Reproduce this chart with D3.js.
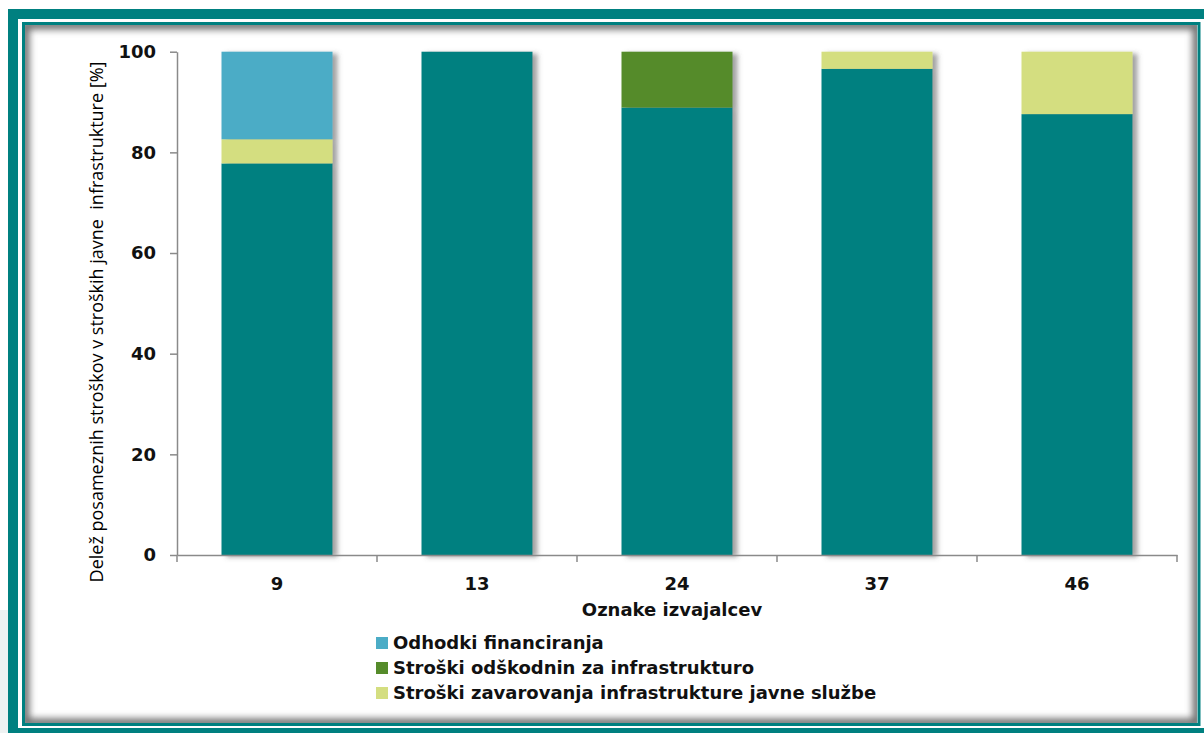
<!DOCTYPE html>
<html><head><meta charset="utf-8">
<script src="https://cdn.jsdelivr.net/npm/d3@7"></script>
<style>body{margin:0;background:#fff}svg{display:block}</style>
</head><body>
<svg id="c" width="1204" height="733"></svg>
<script>
// ---- data ----
const categories = ["9", "13", "24", "37", "46"];
const seriesKeys = ["osnovni", "zavarovanje", "odskodnine", "financiranje"];
const seriesLabels = ["", "Stroški zavarovanja infrastrukture javne službe", "Stroški odškodnin za infrastrukturo", "Odhodki financiranja"];
const seriesColors = ["#008080", "#D4DE80", "#558B2A", "#4BACC6"];
const valOsnovni     = [77.8, 100, 88.9, 96.6, 87.6];
const valZavarovanje = [4.8, 0, 0, 3.4, 12.4];
const valOdskodnine  = [0, 0, 11.1, 0, 0];
const valFinanciranje= [17.4, 0, 0, 0, 0];
const yTicks = [0, 20, 40, 60, 80, 100];
const legendOrder = [3, 2, 1];
const xTitle = "Oznake izvajalcev";
const yTitle = "Delež posameznih stroškov v stroških javne  infrastrukture [%]";

const seriesVals = [valOsnovni, valZavarovanje, valOdskodnine, valFinanciranje];
const rows = categories.map((c, i) => {
  const r = {cat: c};
  seriesKeys.forEach((k, j) => r[k] = seriesVals[j][i]);
  return r;
});

const svg = d3.select("#c");
const defs = svg.append("defs");

// frame
svg.append("rect").attr("x", 0).attr("y", 610).attr("width", 9).attr("height", 123).attr("fill", "#eef2f2");
svg.append("rect").attr("x", 13).attr("y", 14).attr("width", 1200).attr("height", 719)
  .attr("fill", "#fff").attr("stroke", "#008080").attr("stroke-width", 10);
// inner panel
const px = 25, py = 25, pw = 1172, ph = 698;
defs.append("clipPath").attr("id", "pc").append("rect").attr("x", px).attr("y", py).attr("width", pw).attr("height", ph);
const blur = defs.append("filter").attr("id", "blur").attr("x", "-10%").attr("y", "-10%").attr("width", "120%").attr("height", "120%");
blur.append("feGaussianBlur").attr("stdDeviation", 3.5);
svg.append("rect").attr("x", px).attr("y", py).attr("width", pw).attr("height", ph).attr("fill", "#fff");
svg.append("g").attr("clip-path", "url(#pc)").append("rect")
  .attr("x", px).attr("y", py).attr("width", pw).attr("height", ph)
  .attr("fill", "none").attr("stroke", "#6e6e6e").attr("stroke-width", 9).attr("filter", "url(#blur)");
svg.append("rect").attr("x", 23.5).attr("y", 23.5).attr("width", 1175.5).attr("height", 701)
  .attr("fill", "none").attr("stroke", "#008080").attr("stroke-width", 3);

// scales
const x = d3.scaleBand().domain(categories).range([177, 1177]).paddingInner(0.445).paddingOuter(0.2225);
const y = d3.scaleLinear().domain([0, 100]).range([555, 51.7]);

// bar shadow
const sh = defs.append("filter").attr("id", "sh").attr("x", "-10%").attr("y", "-10%").attr("width", "130%").attr("height", "130%");
sh.append("feDropShadow").attr("dx", 5).attr("dy", 2).attr("stdDeviation", 2.5).attr("flood-color", "#555").attr("flood-opacity", 0.55);

const stack = d3.stack().keys(seriesKeys)(rows);
const barG = svg.append("g").attr("filter", "url(#sh)");
stack.forEach((layer, j) => {
  barG.selectAll(null).data(layer.filter(d => d[1] - d[0] > 0)).join("rect")
    .attr("x", d => x(d.data.cat))
    .attr("width", x.bandwidth())
    .attr("y", d => y(d[1]))
    .attr("height", d => y(d[0]) - y(d[1]))
    .attr("fill", seriesColors[j]);
});

const axisColor = "#8a8a8a";
const tickFont = "'DejaVu Sans', Verdana, sans-serif";
const fs = 18;

// y axis
const yAx = svg.append("g").attr("transform", "translate(177,0)")
  .call(d3.axisLeft(y).tickValues(yTicks).tickSize(7).tickPadding(14).tickSizeOuter(0));
yAx.select(".domain").attr("stroke", axisColor).attr("stroke-width", 1.5);
yAx.selectAll(".tick line").attr("stroke", axisColor).attr("stroke-width", 1.5);
yAx.selectAll(".tick text").attr("font-family", tickFont).attr("font-weight", "bold").attr("font-size", fs).attr("fill", "#111");

// x axis
const xAx = svg.append("g").attr("transform", "translate(0,555)")
  .call(d3.axisBottom(x).tickSize(0).tickPadding(22).tickSizeOuter(0));
xAx.select(".domain").attr("stroke", axisColor).attr("stroke-width", 1.5);
xAx.selectAll(".tick text").attr("font-family", tickFont).attr("font-weight", "bold").attr("font-size", fs).attr("fill", "#111");
const bounds = categories.map(c => x(c) - x.step() * x.paddingInner() / 2).concat([x(categories[categories.length - 1]) + x.bandwidth() + x.step() * x.paddingInner() / 2]);
xAx.selectAll("line.bt").data(bounds).join("line").attr("class", "bt")
  .attr("x1", d => d).attr("x2", d => d).attr("y1", 0).attr("y2", 7)
  .attr("stroke", axisColor).attr("stroke-width", 1.5);

// titles
svg.append("text").attr("x", 672).attr("y", 616).attr("text-anchor", "middle")
  .attr("font-family", tickFont).attr("font-weight", "bold").attr("font-size", fs).attr("fill", "#111").text(xTitle);
svg.append("text").attr("transform", "translate(103,322) rotate(-90)").attr("text-anchor", "middle")
  .attr("font-family", "'Open Sans', sans-serif").attr("font-size", 18).attr("fill", "#000")
  .style("white-space", "pre").text(yTitle);

// legend
const lg = svg.append("g");
legendOrder.forEach((j, i) => {
  const cy = 643 + i * 25;
  lg.append("rect").attr("x", 376).attr("y", cy - 6).attr("width", 12).attr("height", 12).attr("fill", seriesColors[j]);
  lg.append("text").attr("x", 393).attr("y", cy + 6).attr("font-family", tickFont).attr("font-weight", "bold")
    .attr("font-size", fs).attr("fill", "#111").text(seriesLabels[j]);
});
</script>
</body></html>
